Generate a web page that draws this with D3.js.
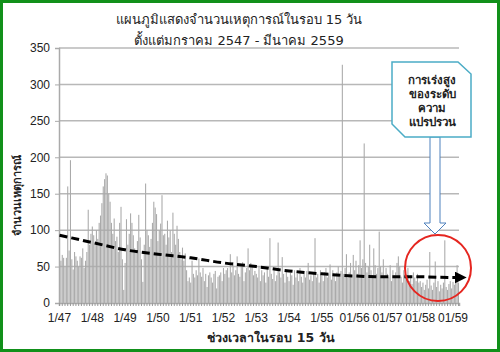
<!DOCTYPE html>
<html>
<head>
<meta charset="utf-8">
<script src="https://cdn.jsdelivr.net/npm/d3@7"></script>
<style>
  body { margin: 0; background: #fff; }
  svg text { font-family: Tahoma, "DejaVu Sans", "Noto Sans", sans-serif; fill: #222; }
  svg .num text, svg text.num { font-family: "Liberation Sans", Arial, sans-serif; }
</style>
</head>
<body>
<div id="chart"></div>
<script>
// counts of events per 15-day period, one array per Thai year (Jan..Dec)
const y2547 = [52, 58, 66, 62, 50, 62, 160, 72, 196, 60, 46, 70, 64, 58, 50, 64, 62, 75, 48, 58, 70, 128, 80, 95];
const y2548 = [105, 93, 80, 100, 88, 110, 120, 137, 160, 170, 178, 175, 150, 139, 110, 95, 116, 85, 91, 70, 110, 132, 60, 18];
const y2549 = [55, 115, 80, 95, 123, 110, 93, 75, 70, 85, 121, 90, 60, 29, 80, 164, 100, 93, 77, 88, 110, 139, 131, 122];
const y2550 = [85, 100, 109, 148, 93, 95, 80, 113, 90, 100, 70, 124, 95, 80, 106, 88, 70, 60, 76, 58, 68, 45, 30, 35];
const y2551 = [28, 58, 40, 35, 45, 38, 61, 42, 36, 48, 30, 40, 22, 38, 42, 35, 28, 40, 44, 20, 36, 38, 42, 30];
const y2552 = [48, 40, 45, 48, 35, 67, 42, 56, 38, 45, 64, 40, 36, 50, 56, 30, 42, 48, 75, 45, 55, 50, 38, 44];
const y2553 = [40, 35, 50, 30, 45, 38, 42, 28, 48, 36, 89, 40, 33, 45, 30, 38, 83, 42, 35, 63, 40, 28, 45, 36];
const y2554 = [30, 42, 38, 25, 45, 35, 40, 30, 48, 36, 28, 40, 35, 44, 55, 32, 38, 30, 42, 89, 35, 40, 28, 45];
const y2555 = [38, 30, 42, 48, 35, 40, 53, 32, 45, 38, 30, 42, 50, 36, 44, 327, 40, 48, 67, 35, 42, 55, 38, 66];
const y2556 = [45, 58, 40, 52, 86, 48, 60, 219, 55, 42, 50, 80, 45, 38, 75, 52, 40, 48, 98, 50, 42, 60, 35, 48];
const y2557 = [40, 35, 52, 30, 45, 38, 42, 55, 64, 50, 36, 28, 45, 40, 33, 48, 30, 38, 26, 42, 35, 30, 40, 28];
const y2558 = [30, 22, 28, 18, 25, 32, 20, 70, 24, 18, 28, 57, 22, 30, 16, 25, 20, 28, 86, 22, 18, 26, 30, 20];
const y2559 = [29, 25, 30, 52, 28];

const counts = [].concat(y2547, y2548, y2549, y2550, y2551, y2552, y2553, y2554,
                         y2555, y2556, y2557, y2558, y2559);

// one x tick label per January
const tickLabels = ["1/47", "1/48", "1/49", "1/50", "1/51", "1/52", "1/53", "1/54", "1/55",
                    "01/56", "01/57", "01/58", "01/59"];
const yTicks = [0, 50, 100, 150, 200, 250, 300, 350];

// trend line read at each January, plus the arrow end
const trendIdx = [0, 24, 48, 72, 96, 120, 144, 168, 192, 216, 240, 264, 288, 291];
const trendVal = [93, 83, 73, 67, 62, 55, 50, 44, 40, 37, 36, 36, 35, 35];

const titleLines = ["แผนภูมิแสดงจำนวนเหตุการณ์ในรอบ 15 วัน", "ตั้งแต่มกราคม 2547 - มีนาคม 2559"];
const calloutLines = ["การเร่งสูง", "ของระดับ", "ความ", "แปรปรวน"];

const width = 500;
const height = 352;
const margin = {left: 59, right: 41, top: 48, bottom: 49};

const svg = d3.select("#chart").append("svg")
  .attr("width", width)
  .attr("height", height);

svg.append("rect")
  .attr("x", 1.5).attr("y", 1.5)
  .attr("width", width - 3).attr("height", height - 3)
  .attr("fill", "#fff")
  .attr("stroke", "#11901a")
  .attr("stroke-width", 3);

const x = d3.scaleBand()
  .domain(d3.range(counts.length))
  .range([margin.left, width - margin.right])
  .paddingInner(0.22);

const y = d3.scaleLinear()
  .domain([0, 350])
  .range([height - margin.bottom, margin.top]);

// gridlines
svg.append("g")
  .selectAll("line")
  .data(yTicks.slice(1))
  .enter()
  .append("line")
  .attr("x1", margin.left)
  .attr("x2", width - margin.right)
  .attr("y1", d => y(d))
  .attr("y2", d => y(d))
  .attr("stroke", "#b8b8b8")
  .attr("stroke-width", 1.5);

// bars
svg.append("g")
  .selectAll("rect")
  .data(counts)
  .enter()
  .append("rect")
  .attr("x", (d, i) => x(i))
  .attr("y", d => y(d))
  .attr("width", x.bandwidth())
  .attr("height", d => y(0) - y(d))
  .attr("fill", "#aaaaaa");

// y axis
const yAxis = d3.axisLeft(y).tickValues(yTicks).tickSize(4).tickPadding(5);
const gy = svg.append("g")
  .attr("class", "num")
  .attr("transform", "translate(" + margin.left + ",0)")
  .call(yAxis);
gy.select(".domain").attr("stroke", "#aaa").attr("stroke-width", 1.5);
gy.selectAll(".tick line").attr("stroke", "#aaa");
gy.selectAll("text").style("font-size", "12px").attr("fill", "#222");

// x axis: small ticks every 2 periods, labels each January
const xAxis = d3.axisBottom(x)
  .tickValues(d3.range(0, counts.length, 2))
  .tickSize(3)
  .tickFormat(d => d % 24 === 0 ? tickLabels[d / 24] : "");
const gx = svg.append("g")
  .attr("class", "num")
  .attr("transform", "translate(0," + y(0) + ")")
  .call(xAxis);
gx.select(".domain").attr("stroke", "#aaa").attr("stroke-width", 1.5);
gx.selectAll(".tick line").attr("stroke", "#999");
gx.selectAll("text").style("font-size", "12px").attr("fill", "#222").attr("dy", "1.05em");

// titles
svg.selectAll(".title")
  .data(titleLines)
  .enter()
  .append("text")
  .attr("class", "title")
  .attr("x", 239)
  .attr("y", (d, i) => 24 + i * 21)
  .attr("text-anchor", "middle")
  .style("font-size", "13px")
  .text(d => d);

svg.append("text")
  .attr("x", 271)
  .attr("y", 342)
  .attr("text-anchor", "middle")
  .style("font-size", "12.5px")
  .style("font-weight", "bold")
  .text("ช่วงเวลาในรอบ 15 วัน");

svg.append("text")
  .attr("transform", "translate(21,195) rotate(-90)")
  .attr("text-anchor", "middle")
  .style("font-size", "11px")
  .style("font-weight", "bold")
  .text("จำนวนเหตุการณ์");

// dashed trend with arrow head
svg.append("defs").append("marker")
  .attr("id", "arrow")
  .attr("viewBox", "0 0 10 10")
  .attr("refX", 2).attr("refY", 5)
  .attr("markerWidth", 4).attr("markerHeight", 4)
  .attr("markerUnits", "strokeWidth")
  .attr("orient", "auto")
  .append("path")
  .attr("d", "M0,0 L10,5 L0,10 Z")
  .attr("fill", "#000");

const trendLine = d3.line()
  .x((d, i) => x(d) + x.bandwidth() / 2)
  .y((d, i) => y(trendVal[i]))
  .curve(d3.curveMonotoneX);

svg.append("path")
  .datum(trendIdx)
  .attr("d", trendLine)
  .attr("fill", "none")
  .attr("stroke", "#000")
  .attr("stroke-width", 3)
  .attr("stroke-dasharray", "8,4")
  .attr("marker-end", "url(#arrow)");

// red circle around last part
svg.append("ellipse")
  .attr("cx", 438).attr("cy", 268)
  .attr("rx", 33).attr("ry", 33)
  .attr("fill", "none")
  .attr("stroke", "#e52620")
  .attr("stroke-width", 2);

// block arrow from callout down to circle
svg.append("path")
  .attr("d", "M430,137 L440,137 L440,223 L446,223 L435,234 L424,223 L430,223 Z")
  .attr("fill", "#fff")
  .attr("stroke", "#4f81bd")
  .attr("stroke-width", 1);

// callout box with cut corners
svg.append("path")
  .attr("d", "M392,62 L458,62 L471,74 L471,137 L405,137 L392,124 Z")
  .attr("fill", "#fff")
  .attr("stroke", "#4bacc6")
  .attr("stroke-width", 1.5);

svg.selectAll(".callout")
  .data(calloutLines)
  .enter()
  .append("text")
  .attr("class", "callout")
  .attr("x", 432)
  .attr("y", (d, i) => 84 + i * 14)
  .attr("text-anchor", "middle")
  .style("font-size", "11.5px")
  .style("font-weight", "bold")
  .text(d => d);
</script>
</body>
</html>
